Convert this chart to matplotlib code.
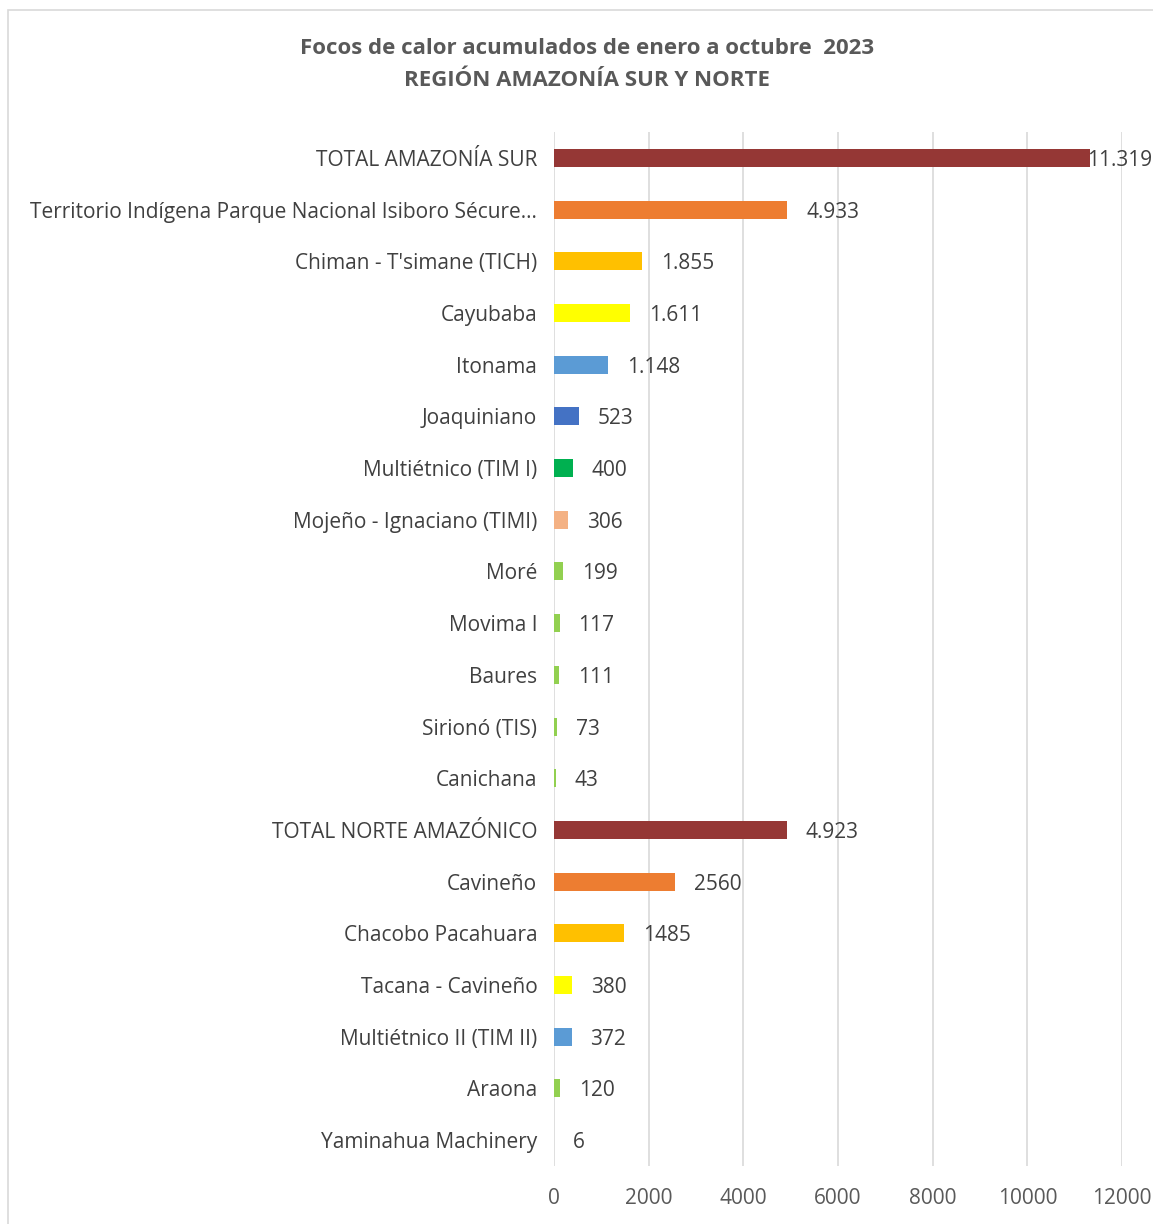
import matplotlib.pyplot as plt
from matplotlib.patches import Rectangle

# Datos
categorias = [
    "TOTAL AMAZONÍA SUR",
    "Territorio Indígena Parque Nacional Isiboro Sécure...",
    "Chiman - T'simane (TICH)",
    "Cayubaba",
    "Itonama",
    "Joaquiniano",
    "Multiétnico (TIM I)",
    "Mojeño - Ignaciano (TIMI)",
    "Moré",
    "Movima I",
    "Baures",
    "Sirionó (TIS)",
    "Canichana",
    "TOTAL NORTE AMAZÓNICO",
    "Cavineño",
    "Chacobo Pacahuara",
    "Tacana - Cavineño",
    "Multiétnico II (TIM II)",
    "Araona",
    "Yaminahua Machinery",
]
valores = [11319, 4933, 1855, 1611, 1148, 523, 400, 306, 199, 117, 111, 73, 43,
           4923, 2560, 1485, 380, 372, 120, 6]
etiquetas = ["11.319", "4.933", "1.855", "1.611", "1.148", "523", "400", "306", "199",
             "117", "111", "73", "43", "4.923", "2560", "1485", "380", "372", "120", "6"]
colores = ["#953735", "#ED7D31", "#FFC000", "#FFFF00", "#5B9BD5", "#4472C4", "#00B050",
           "#F4B183", "#92D050", "#92D050", "#92D050", "#92D050", "#92D050",
           "#953735", "#ED7D31", "#FFC000", "#FFFF00", "#5B9BD5", "#92D050", "#92D050"]
ticks_x = [0, 2000, 4000, 6000, 8000, 10000, 12000]

plt.rcParams['font.family'] = ['Open Sans', 'DejaVu Sans']

fig = plt.figure(figsize=(11.53, 12.24), dpi=100)
ax = fig.add_axes([554 / 1153, 1 - 1166 / 1224, 568 / 1153, 1034 / 1224])

# Marco del gráfico
fig.patches.append(Rectangle((8 / 1153, -0.01), 1.1, 1 - 10 / 1224 + 0.01,
                             transform=fig.transFigure, fill=False,
                             edgecolor="#D9D9D9", linewidth=1.2))

pos = list(range(len(categorias)))
ax.barh(pos, valores, height=0.35, color=colores, zorder=3)

for p, v, t in zip(pos, valores, etiquetas):
    x = min(v + 400, 11270)
    ax.text(x, p, t, va="center_baseline", ha="left", fontsize=15, color="#404040",
            clip_on=False, zorder=4)

ax.set_xlim(0, 12000)
ax.set_ylim(len(categorias) - 0.5, -0.5)
ax.set_yticks(pos)
ax.set_yticklabels(categorias, fontsize=15, color="#404040", va="center_baseline")
ax.set_xticks(ticks_x)
ax.set_xticklabels([str(t) for t in ticks_x], fontsize=15, color="#595959")
ax.tick_params(axis="both", length=0)
ax.tick_params(axis="y", pad=12)
ax.tick_params(axis="x", pad=16)
ax.grid(axis="x", color="#D9D9D9", linewidth=1.2, zorder=0)
for s in ax.spines.values():
    s.set_visible(False)

fig.text(587 / 1153, 1 - 48 / 1224, "Focos de calor acumulados de enero a octubre  2023",
         ha="center", va="center", fontsize=16, fontweight="bold", color="#595959")
fig.text(587 / 1153, 1 - 80 / 1224, "REGIÓN AMAZONÍA SUR Y NORTE",
         ha="center", va="center", fontsize=16, fontweight="bold", color="#595959")

fig.savefig("out.png", dpi=100)
